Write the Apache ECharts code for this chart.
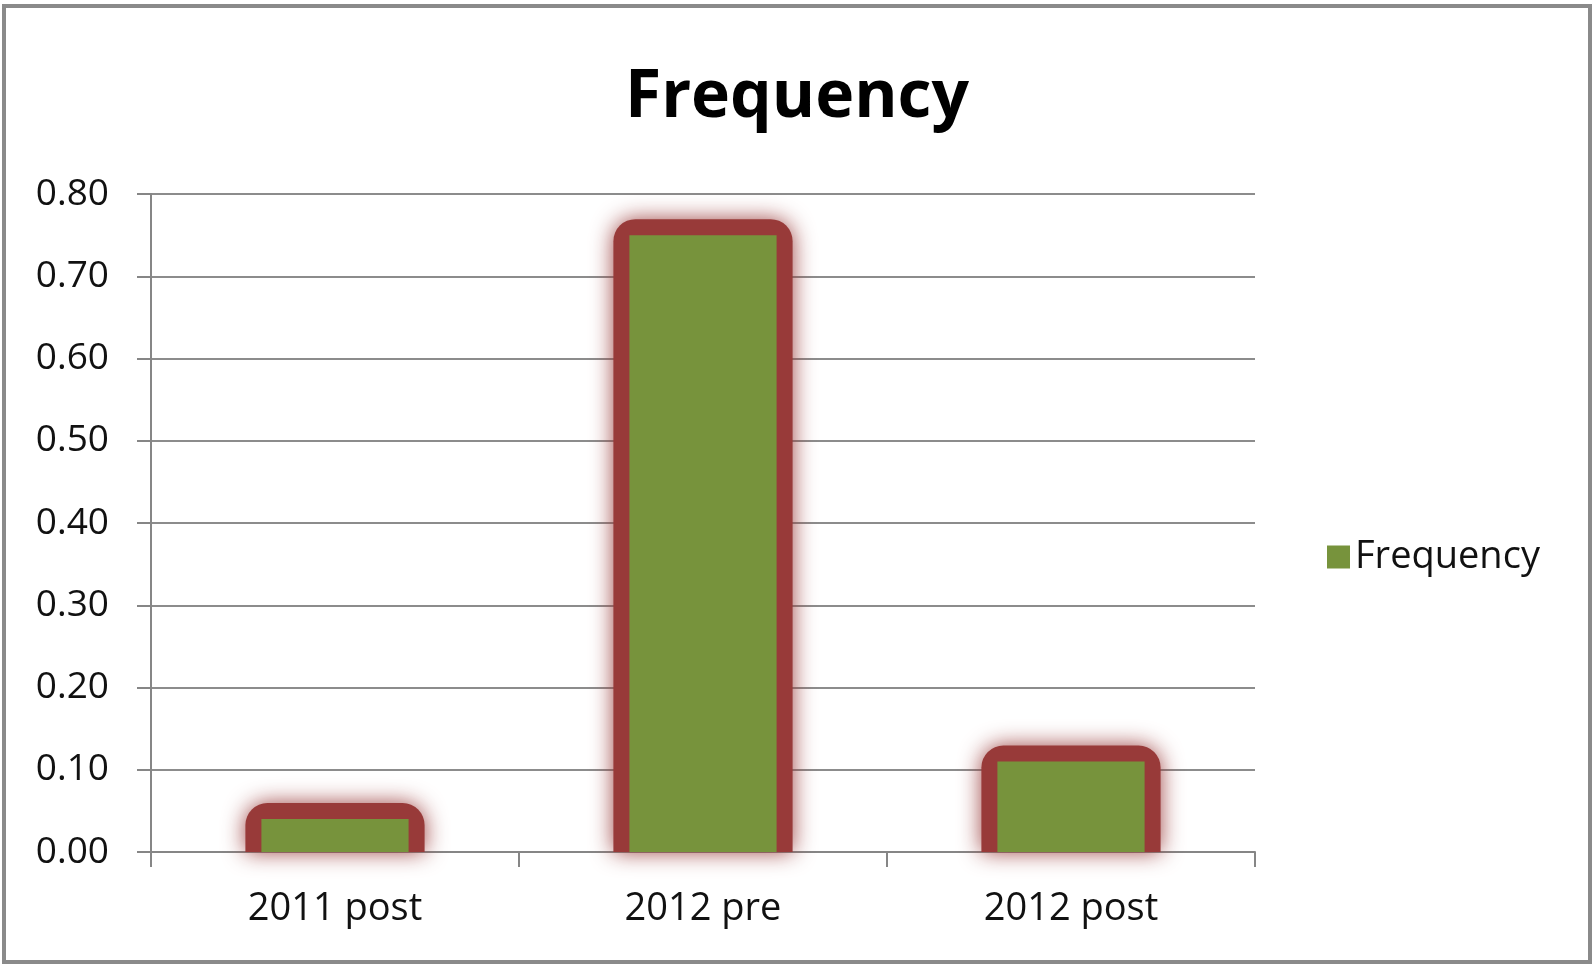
<!DOCTYPE html>
<html><head><meta charset="utf-8">
<script src="https://cdn.jsdelivr.net/npm/echarts@6/dist/echarts.min.js"></script>
<style>html,body{margin:0;padding:0;background:#fff}#c{width:1594px;height:966px}</style>
</head><body><div id="c"></div>
<script>
const categories = ['2011 post', '2012 pre', '2012 post'];
const frequency = [0.04, 0.75, 0.11];
const yTicks = { min: 0, max: 0.8, interval: 0.1 };
const seriesName = 'Frequency';

const FONT = '"Open Sans", "Noto Sans", sans-serif';
const GREEN = '#77933c';
const RED = '#983a39';

const chart = echarts.init(document.getElementById('c'));
chart.setOption({
  backgroundColor: '#fff',
  animation: false,
  title: {
    text: 'Frequency', left: 'center', top: 60,
    textStyle: { fontFamily: FONT, fontWeight: 'bold', fontSize: 66, color: '#000' }
  },
  legend: {
    data: [{ name: seriesName, icon: 'rect' }],
    left: 1322, top: 533, itemWidth: 23, itemHeight: 23, itemGap: 10,
    textStyle: { fontFamily: FONT, fontSize: 38, color: '#111' },
    selectedMode: false
  },
  grid: { left: 151, right: 339, top: 194, bottom: 114, containLabel: false },
  xAxis: {
    type: 'category', data: categories,
    axisLine: { lineStyle: { color: '#868686', width: 2 } },
    axisTick: { show: true, length: 15, lineStyle: { color: '#868686', width: 2 } },
    axisLabel: { fontFamily: FONT, fontSize: 38, color: '#111', margin: 38 }
  },
  yAxis: {
    type: 'value', min: yTicks.min, max: yTicks.max, interval: yTicks.interval,
    axisLine: { show: true, lineStyle: { color: '#868686', width: 2 } },
    axisTick: { show: true, length: 14, lineStyle: { color: '#868686', width: 2 } },
    splitLine: { lineStyle: { color: '#8c8c8c', width: 2 } },
    axisLabel: { fontFamily: FONT, fontSize: 37, color: '#111', margin: 42,
      formatter: v => v.toFixed(2) }
  },
  series: [{
    name: seriesName,
    type: 'custom',
    itemStyle: { color: GREEN },
    data: categories.map((c, i) => [i, frequency[i]]),
    encode: { x: 0, y: 1 },
    z: 3,
    renderItem: function (params, api) {
      const top = api.coord([api.value(0), api.value(1)]);
      const base = api.coord([api.value(0), 0]);
      const w = api.size([1, 0])[0] * 0.4;
      const x0 = top[0] - w / 2;
      const b = 16;
      return {
        type: 'group',
        children: [
          { type: 'rect',
            shape: { x: x0 - b, y: top[1] - b, width: w + 2 * b, height: base[1] - top[1] + b, r: [22, 22, 0, 0] },
            style: { fill: RED, shadowBlur: 22, shadowColor: 'rgba(152,58,57,0.95)' } },
          { type: 'rect',
            shape: { x: x0, y: top[1], width: w, height: base[1] - top[1] },
            style: { fill: GREEN } }
        ]
      };
    }
  }],
  graphic: [{
    type: 'rect', shape: { x: 4, y: 6, width: 1586, height: 956 },
    style: { fill: 'none', stroke: '#8a8a8a', lineWidth: 4 }, silent: true
  }]
});
</script></body></html>
